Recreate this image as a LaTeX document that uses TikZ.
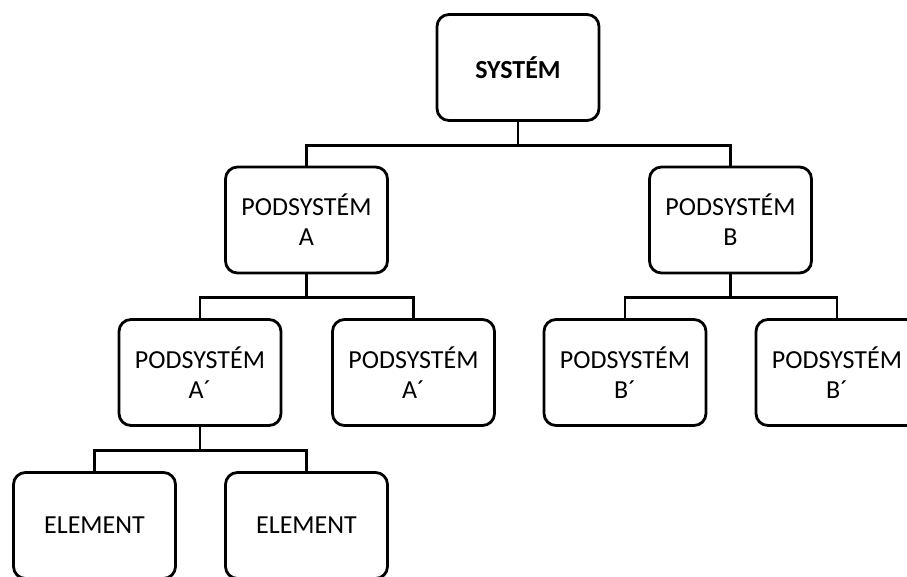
\documentclass[tikz,border=0pt]{standalone}
\usepackage{fontspec}
\setmainfont{Carlito}
\begin{document}
\begin{tikzpicture}[x=1pt,y=-1pt,
  box/.style={draw=black,line width=2.8pt,rounded corners=12pt,fill=white,
    minimum width=162pt,minimum height=106pt,inner sep=0pt,align=center,
    font=\fontsize{26pt}{30pt}\selectfont},
  conn/.style={draw=black,line width=2.8pt}]
\useasboundingbox (0,0) rectangle (907,576);
\clip (0,0) rectangle (907,576);
\node[box,font=\fontsize{26pt}{30pt}\selectfont\bfseries] (sys) at (518,67.5) {SYSTÉM};
\node[box] (a) at (306.5,220) {PODSYSTÉM\\A};
\node[box] (b) at (730.5,220) {PODSYSTÉM\\B};
\node[box] (a1) at (200,372.5) {PODSYSTÉM\\A´};
\node[box] (a2) at (413.5,372.5) {PODSYSTÉM\\A´};
\node[box] (b1) at (625,372.5) {PODSYSTÉM\\B´};
\node[box] (b2) at (837,372.5) {PODSYSTÉM\\B´};
\node[box] (e1) at (94.5,525.5) {ELEMENT};
\node[box] (e2) at (306.5,525.5) {ELEMENT};
\draw[conn] (sys.south) -- ++(0,23.5) -| (a.north);
\draw[conn] (sys.south) -- ++(0,23.5) -| (b.north);
\draw[conn] (a.south) -- ++(0,23) -| (a1.north);
\draw[conn] (a.south) -- ++(0,23) -| (a2.north);
\draw[conn] (b.south) -- ++(0,23) -| (b1.north);
\draw[conn] (b.south) -- ++(0,23) -| (b2.north);
\draw[conn] (a1.south) -- ++(0,23.5) -| (e1.north);
\draw[conn] (a1.south) -- ++(0,23.5) -| (e2.north);
\end{tikzpicture}
\end{document}
